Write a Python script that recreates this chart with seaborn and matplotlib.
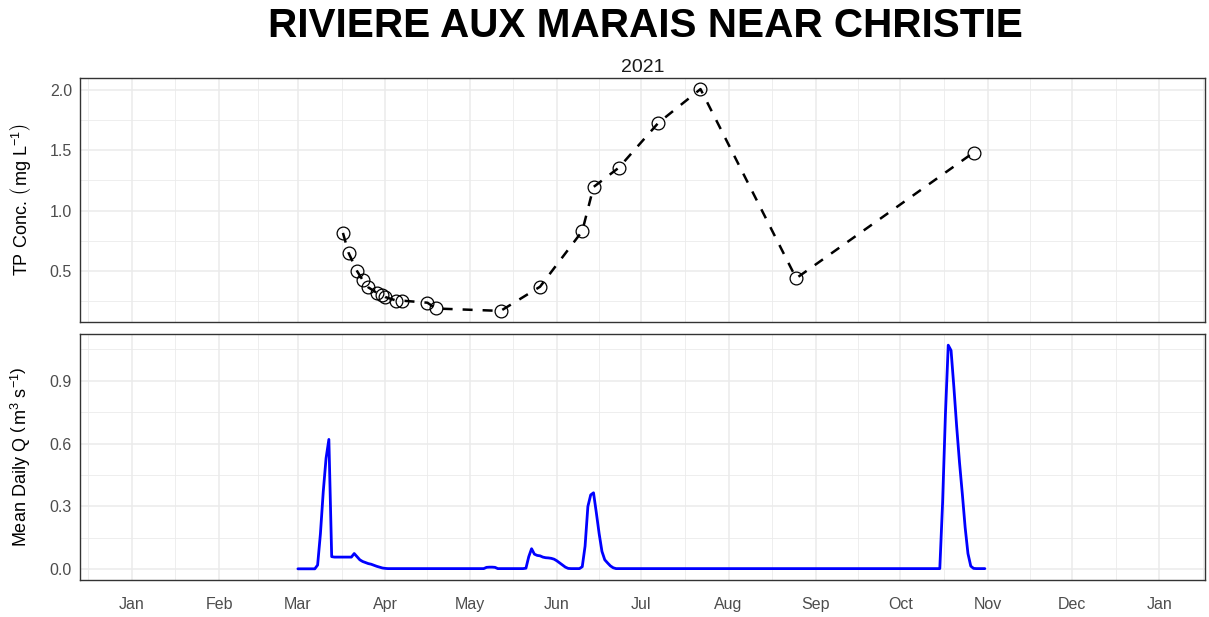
import numpy as np
import pandas as pd
import matplotlib
matplotlib.use("Agg")
import matplotlib.pyplot as plt
import matplotlib.dates as mdates
import matplotlib.ticker as mticker
import seaborn as sns

# ---------------- data ----------------
title = "RIVIERE AUX MARAIS NEAR CHRISTIE"
subtitle = "2021"

tp_dates = ["2021-03-17", "2021-03-19", "2021-03-22", "2021-03-24", "2021-03-26",
            "2021-03-29", "2021-03-31", "2021-04-01", "2021-04-05", "2021-04-07",
            "2021-04-16", "2021-04-19", "2021-05-12", "2021-05-26", "2021-06-10",
            "2021-06-14", "2021-06-23", "2021-07-07", "2021-07-22", "2021-08-25",
            "2021-10-27"]
tp_values = [0.815, 0.650, 0.500, 0.425, 0.365,
             0.320, 0.300, 0.285, 0.255, 0.255,
             0.238, 0.190, 0.170, 0.370, 0.830,
             1.195, 1.355, 1.725, 2.005, 0.440,
             1.480]

q_start = "2021-03-01"
q_mar = [0.002, 0.002, 0.002, 0.002, 0.002, 0.002, 0.002, 0.020, 0.170, 0.370,
         0.530, 0.620, 0.060, 0.058, 0.058, 0.058, 0.058, 0.058, 0.058, 0.058,
         0.075, 0.060, 0.045, 0.037, 0.032, 0.027, 0.024, 0.019, 0.014, 0.010,
         0.006]
q_apr = [0.004, 0.003, 0.003, 0.003, 0.003, 0.003, 0.003, 0.003, 0.003, 0.003,
         0.003, 0.003, 0.003, 0.003, 0.003, 0.003, 0.003, 0.003, 0.003, 0.003,
         0.003, 0.003, 0.003, 0.003, 0.003, 0.003, 0.003, 0.003, 0.003, 0.003]
q_may = [0.003, 0.003, 0.003, 0.003, 0.003, 0.003, 0.009, 0.010, 0.010, 0.009,
         0.003, 0.003, 0.003, 0.003, 0.003, 0.003, 0.003, 0.003, 0.003, 0.003,
         0.005, 0.060, 0.098, 0.072, 0.066, 0.064, 0.058, 0.055, 0.054, 0.052,
         0.048]
q_jun = [0.040, 0.030, 0.020, 0.010, 0.004, 0.003, 0.003, 0.003, 0.003, 0.012,
         0.110, 0.300, 0.355, 0.365, 0.270, 0.170, 0.085, 0.045, 0.030, 0.016,
         0.007, 0.003, 0.003, 0.003, 0.003, 0.003, 0.003, 0.003, 0.003, 0.003]
q_jul = [0.003, 0.003, 0.003, 0.003, 0.003, 0.003, 0.003, 0.003, 0.003, 0.003,
         0.003, 0.003, 0.003, 0.003, 0.003, 0.003, 0.003, 0.003, 0.003, 0.003,
         0.003, 0.003, 0.003, 0.003, 0.003, 0.003, 0.003, 0.003, 0.003, 0.003,
         0.003]
q_aug = [0.003, 0.003, 0.003, 0.003, 0.003, 0.003, 0.003, 0.003, 0.003, 0.003,
         0.003, 0.003, 0.003, 0.003, 0.003, 0.003, 0.003, 0.003, 0.003, 0.003,
         0.003, 0.003, 0.003, 0.003, 0.003, 0.003, 0.003, 0.003, 0.003, 0.003,
         0.003]
q_sep = [0.003, 0.003, 0.003, 0.003, 0.003, 0.003, 0.003, 0.003, 0.003, 0.003,
         0.003, 0.003, 0.003, 0.003, 0.003, 0.003, 0.003, 0.003, 0.003, 0.003,
         0.003, 0.003, 0.003, 0.003, 0.003, 0.003, 0.003, 0.003, 0.003, 0.003]
q_oct = [0.003, 0.003, 0.003, 0.003, 0.003, 0.003, 0.003, 0.003, 0.003, 0.003,
         0.003, 0.003, 0.003, 0.003, 0.003, 0.320, 0.740, 1.070, 1.045, 0.870,
         0.680, 0.510, 0.360, 0.200, 0.075, 0.015, 0.004, 0.003, 0.003, 0.003,
         0.003]

month_labels = ["Jan", "Feb", "Mar", "Apr", "May", "Jun", "Jul",
                "Aug", "Sep", "Oct", "Nov", "Dec", "Jan"]
tp_yticks = [0.5, 1.0, 1.5, 2.0]
q_yticks = [0.0, 0.3, 0.6, 0.9]

# ---------------- frames ----------------
tp_df = pd.DataFrame({"date": pd.to_datetime(tp_dates), "tp": tp_values})
q_vals = q_mar + q_apr + q_may + q_jun + q_jul + q_aug + q_sep + q_oct
q_df = pd.DataFrame({"date": pd.date_range(q_start, periods=len(q_vals), freq="D"),
                     "q": q_vals})

# ---------------- style ----------------
sns.set_theme(style="white")
plt.rcParams["font.family"] = ["Liberation Sans", "DejaVu Sans"]
plt.rcParams["mathtext.fontset"] = "custom"
plt.rcParams["mathtext.rm"] = "Liberation Sans"
plt.rcParams["mathtext.it"] = "Liberation Sans:italic"
plt.rcParams["mathtext.bf"] = "Liberation Sans:bold"

W, H = 1209, 617
fig = plt.figure(figsize=(W / 100, H / 100), dpi=100)
fig.patch.set_facecolor("white")
left, right = 80 / W, 1205 / W
ax1 = fig.add_axes([left, 1 - 322 / H, right - left, (322 - 78) / H])
ax2 = fig.add_axes([left, 1 - 580 / H, right - left, (580 - 334) / H])

# x scale
d0 = pd.Timestamp("2021-01-01")
d1 = pd.Timestamp("2022-01-01")
xlim = (mdates.date2num(d0 - pd.Timedelta(days=18.4)),
        mdates.date2num(d1 + pd.Timedelta(days=16.2)))
majors = pd.date_range("2021-01-01", "2022-01-01", freq="MS")
ext = pd.date_range("2020-12-01", "2022-02-01", freq="MS")
ext_num = mdates.date2num(ext)
minors = [(a + b) / 2 for a, b in zip(ext_num[:-1], ext_num[1:])]
minors = [m for m in minors if xlim[0] <= m <= xlim[1]]

grid_c = "#EBEBEB"
for ax in (ax1, ax2):
    ax.set_facecolor("white")
    ax.set_xlim(*xlim)
    ax.xaxis.set_major_locator(mticker.FixedLocator(mdates.date2num(majors)))
    ax.xaxis.set_minor_locator(mticker.FixedLocator(minors))
    ax.grid(True, which="major", color=grid_c, lw=1.1, zorder=0)
    ax.grid(True, which="minor", color=grid_c, lw=0.6, zorder=0)
    ax.set_axisbelow(True)
    for s in ax.spines.values():
        s.set_visible(True)
        s.set_color("#333333")
        s.set_linewidth(1.0)
    ax.tick_params(axis="both", which="major", direction="out", length=3.3,
                   width=0.8, color="#333333", labelsize=11.5,
                   labelcolor="#4D4D4D", pad=2.5)
    ax.tick_params(axis="both", which="minor", length=0)

# ---------------- top panel: TP ----------------
sns.lineplot(data=tp_df, x="date", y="tp", ax=ax1, color="black",
             linewidth=1.8, linestyle=(0, (4, 4)), estimator=None,
             marker="o", markersize=9.2, markerfacecolor="none",
             markeredgecolor="black", markeredgewidth=0.9, legend=False)
r = max(tp_values) - min(tp_values)
ax1.set_ylim(min(tp_values) - 0.05 * r, max(tp_values) + 0.05 * r)
ax1.set_xlim(*xlim)
ax1.yaxis.set_major_locator(mticker.FixedLocator(tp_yticks))
ax1.yaxis.set_minor_locator(mticker.FixedLocator([0.25, 0.75, 1.25, 1.75]))
ax1.yaxis.set_major_formatter(mticker.FormatStrFormatter("%.1f"))
ax1.tick_params(axis="x", which="both", length=0, labelbottom=False)
ax1.set_xlabel("")
ax1.set_ylabel(r"TP Conc. $\left(\,\mathrm{mg\ L^{-1}}\right)$", fontsize=13,
               color="black")
ax1.yaxis.set_label_coords(-0.042, 0.5)

# ---------------- bottom panel: Q ----------------
sns.lineplot(data=q_df, x="date", y="q", ax=ax2, color="#0000FF",
             linewidth=2.0, estimator=None, legend=False)
r2 = max(q_vals) - min(q_vals)
ax2.set_ylim(min(q_vals) - 0.05 * r2, max(q_vals) + 0.05 * r2)
ax2.set_xlim(*xlim)
ax2.yaxis.set_major_locator(mticker.FixedLocator(q_yticks))
ax2.yaxis.set_minor_locator(mticker.FixedLocator([0.15, 0.45, 0.75, 1.05]))
ax2.yaxis.set_major_formatter(mticker.FormatStrFormatter("%.1f"))
ax2.xaxis.set_major_formatter(mticker.FixedFormatter(month_labels))
ax2.tick_params(axis="x", which="major", pad=9)
ax2.set_xlabel("")
ax2.set_ylabel(r"Mean Daily Q $\left(\,\mathrm{m^{3}\ s^{-1}}\right)$", fontsize=13,
               color="black")
ax2.yaxis.set_label_coords(-0.042, 0.5)

# ---------------- titles ----------------
fig.text(645 / W, 1 - 26 / H, title, fontsize=29.2, fontweight="bold",
         ha="center", va="center", color="black")
fig.text(643 / W, 1 - 67 / H, subtitle, fontsize=14, ha="center",
         va="center", color="#1A1A1A")

fig.savefig("out.png", dpi=100, facecolor="white")
